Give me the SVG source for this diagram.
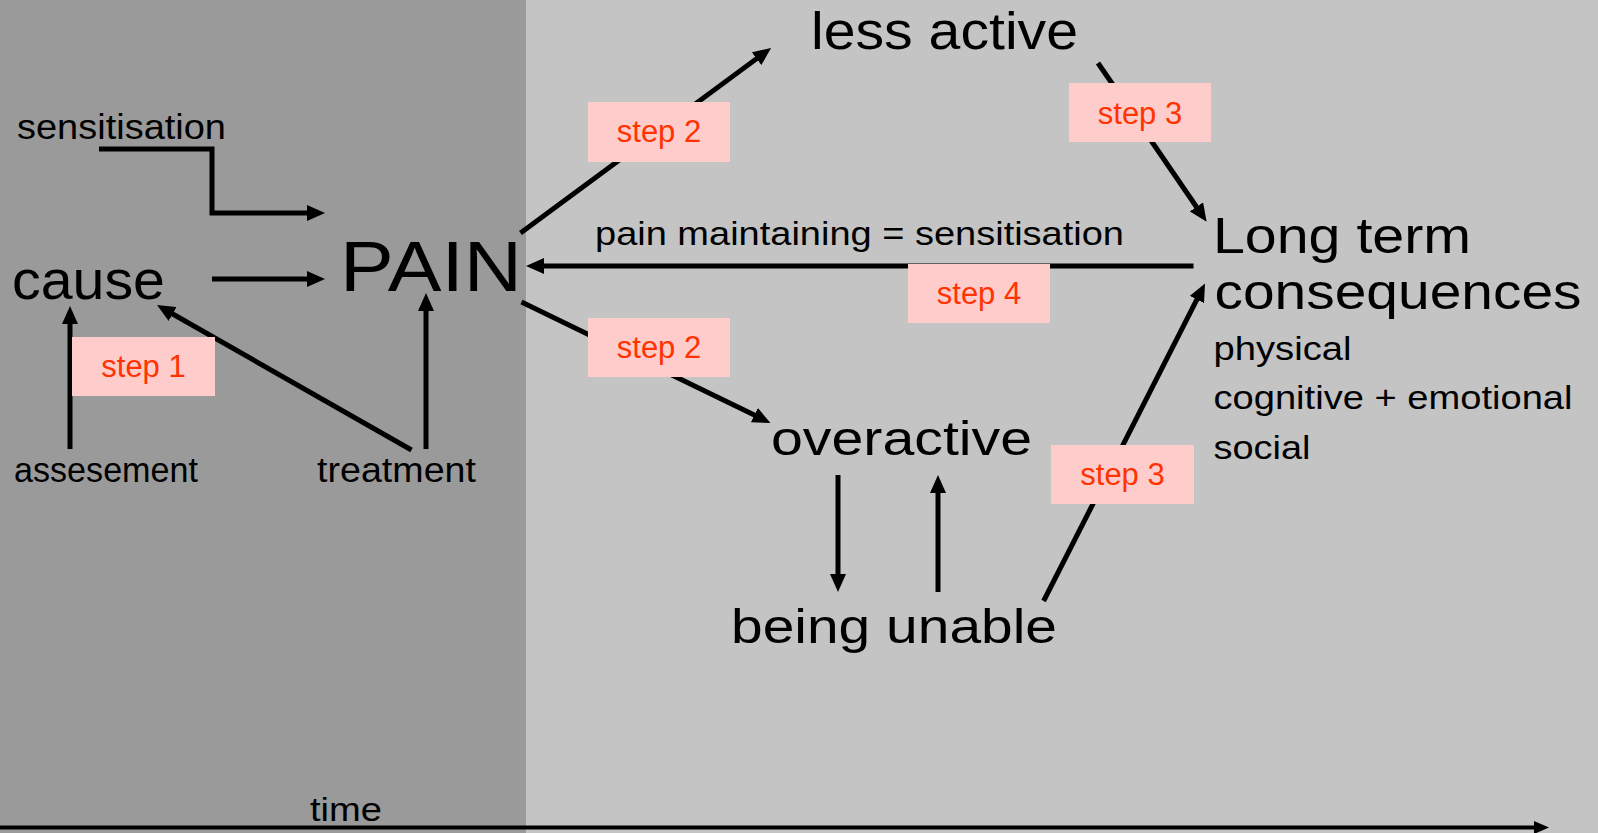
<svg xmlns="http://www.w3.org/2000/svg" width="1598" height="833" viewBox="0 0 1598 833">
<style>
.t{font-family:"Liberation Sans",Arial,sans-serif;fill:#000}
.c{fill:none;stroke:#000;stroke-width:5}
.s rect{fill:#ffcccc}
.s text{font-family:"Liberation Sans",Arial,sans-serif;fill:#ff3300;font-size:31px;text-anchor:middle}
</style>
<defs>
<marker id="ah" markerUnits="userSpaceOnUse" markerWidth="18" markerHeight="16" refX="8" refY="8" orient="auto"><path d="M0,0 L18,8 L0,16 z" fill="#000"/></marker>
<marker id="ahs" markerUnits="userSpaceOnUse" markerWidth="15" markerHeight="13" refX="6" refY="6.5" orient="auto"><path d="M0,0 L15,6.5 L0,13 z" fill="#000"/></marker>
</defs>
<rect x="0" y="0" width="526" height="833" fill="#9a9a9a"/>
<rect x="526" y="0" width="1072" height="833" fill="#c4c4c4"/>

<g id="connectors">
<path class="c" d="M99,149 H212 V213 H315" marker-end="url(#ah)"/>
<path class="c" d="M212,279 H315" marker-end="url(#ah)"/>
<path class="c" d="M70,449 V316" marker-end="url(#ah)"/>
<path class="c" d="M411.5,450 L165.7,310" marker-end="url(#ah)"/>
<path class="c" d="M426,449 V303" marker-end="url(#ah)"/>
<path class="c" d="M520.5,233 L763,53.9" marker-end="url(#ah)"/>
<path class="c" d="M521.5,302 L761.5,418.6" marker-end="url(#ah)"/>
<path class="c" d="M1193.5,266 H536" marker-end="url(#ah)"/>
<path class="c" d="M1098,63 L1201,213.5" marker-end="url(#ah)"/>
<path class="c" d="M1043.6,601 L1200.5,292.4" marker-end="url(#ah)"/>
<path class="c" d="M838,475 V582" marker-end="url(#ah)"/>
<path class="c" d="M938,592 V485" marker-end="url(#ah)"/>
<path class="c" style="stroke-width:4" d="M0,827.5 H1540" marker-end="url(#ahs)"/>
</g>

<g id="sensitisation"><text class="t" x="17" y="139" font-size="35" textLength="209" lengthAdjust="spacingAndGlyphs">sensitisation</text></g>
<g id="cause"><text class="t" x="12" y="299" font-size="56" textLength="153" lengthAdjust="spacingAndGlyphs">cause</text></g>
<g id="pain"><text class="t" x="340" y="291" font-size="71" textLength="182" lengthAdjust="spacingAndGlyphs">PAIN</text></g>
<g id="assesement"><text class="t" x="14" y="482" font-size="35" textLength="184" lengthAdjust="spacingAndGlyphs">assesement</text></g>
<g id="treatment"><text class="t" x="317" y="482" font-size="35" textLength="159" lengthAdjust="spacingAndGlyphs">treatment</text></g>
<g id="less-active"><text class="t" x="811" y="49" font-size="51" textLength="267" lengthAdjust="spacingAndGlyphs">less  active</text></g>
<g id="pain-maintaining"><text class="t" x="595" y="245" font-size="34" textLength="529" lengthAdjust="spacingAndGlyphs">pain maintaining = sensitisation</text></g>
<g id="long-term">
<text class="t" x="1213" y="253" font-size="50" textLength="258" lengthAdjust="spacingAndGlyphs">Long term</text>
<text class="t" x="1214.5" y="309" font-size="50" textLength="367" lengthAdjust="spacingAndGlyphs">consequences</text>
<text class="t" x="1213.5" y="359.5" font-size="34" textLength="138" lengthAdjust="spacingAndGlyphs">physical</text>
<text class="t" x="1213.5" y="408.5" font-size="34" textLength="359" lengthAdjust="spacingAndGlyphs">cognitive + emotional</text>
<text class="t" x="1213.5" y="459" font-size="34" textLength="97" lengthAdjust="spacingAndGlyphs">social</text>
</g>
<g id="overactive"><text class="t" x="771" y="455" font-size="48" textLength="261" lengthAdjust="spacingAndGlyphs">overactive</text></g>
<g id="being-unable"><text class="t" x="731" y="643" font-size="49" textLength="326" lengthAdjust="spacingAndGlyphs">being unable</text></g>
<g id="time"><text class="t" x="310" y="821" font-size="34" textLength="72" lengthAdjust="spacingAndGlyphs">time</text></g>

<g id="step1" class="s"><rect x="72" y="337" width="143" height="59"/><text x="143.5" y="377">step 1</text></g>
<g id="step2a" class="s"><rect x="588" y="102" width="142" height="60"/><text x="659" y="142">step 2</text></g>
<g id="step2b" class="s"><rect x="588" y="318" width="142" height="59"/><text x="659" y="358">step 2</text></g>
<g id="step3a" class="s"><rect x="1069" y="83" width="142" height="59"/><text x="1140" y="124">step 3</text></g>
<g id="step3b" class="s"><rect x="1051" y="445" width="143" height="59"/><text x="1122.5" y="485">step 3</text></g>
<g id="step4" class="s"><rect x="908" y="264" width="142" height="59"/><text x="979" y="304">step 4</text></g>
</svg>
